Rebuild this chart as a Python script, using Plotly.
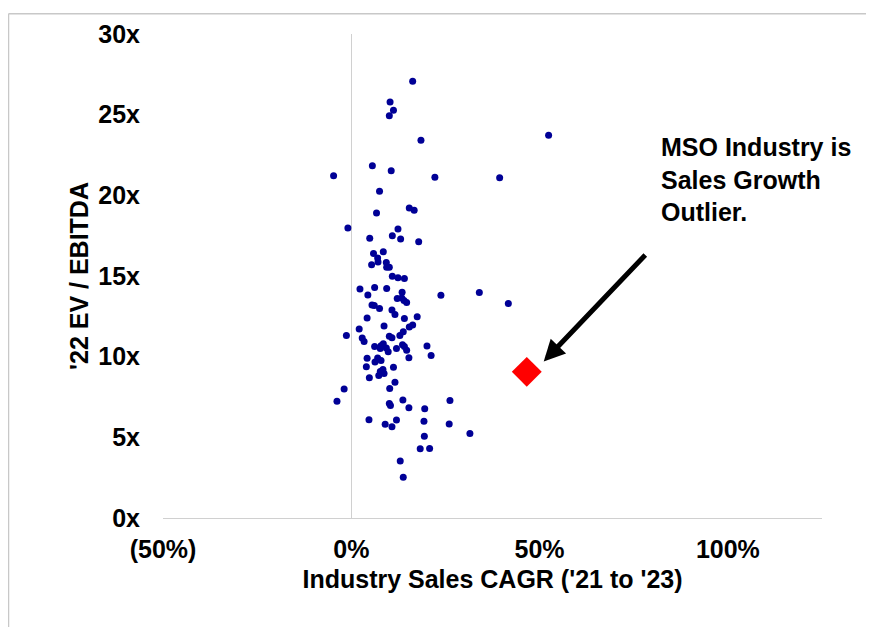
import plotly.graph_objects as go

# Industry sales CAGR ('21 to '23), in %
cagr_pct = [16.3, 10.3, 11.2, 10.1, 18.5, 5.6, 10.6, -4.7, 22.2, 39.4,
            7.5, 6.7, 15.4, 16.7, -0.9, 12.4, 4.9, 10.9, 13.1, 17.9,
            8.5, 5.9, 7.0, 7.1, 5.4, 9.3, 9.4, 10.1, 10.9, 12.4,
            14.1, 2.3, 6.2, 9.4, 13.5, 4.4, 23.8, 34.0, 12.2, 13.4,
            14.0, 14.7, 5.5, 6.1, 7.5, 10.8, 11.6, 4.2, 14.1, 17.5,
            8.7, 2.1, 16.3, 15.4, 13.8, 12.9, -1.3, 2.9, 3.4, 10.1,
            10.8, 6.2, 7.9, 8.5, 9.3, 7.7, 9.8, 12.0, 13.6, 14.1,
            14.7, 20.1, 21.2, 15.3, 4.2, 7.0, 7.9, 6.3, 4.0, 11.2,
            8.4, 7.7, 8.7, 7.3, 4.8, 11.6, -1.9, 10.2, -3.8, 13.7,
            26.2, 10.1, 10.4, 15.3, 19.5, 4.7, 9.0, 10.8, 12.0, 19.3,
            26.0, 31.5, 19.4, 18.3, 20.8, 13.0, 13.8, 52.4, 41.7]

# '22 EV / EBITDA multiple
ev_ebitda = [27.07, 25.79, 25.28, 24.93, 23.42, 21.84, 21.53, 21.21, 21.12, 21.09,
             20.26, 18.90, 19.22, 19.08, 17.98, 17.91, 17.34, 17.50, 17.30, 17.12,
             16.50, 16.40, 16.12, 15.87, 15.69, 15.83, 15.54, 15.54, 14.99, 14.89,
             14.85, 14.19, 14.29, 14.23, 13.99, 13.82, 13.80, 13.97, 13.60, 13.64,
             13.48, 13.36, 13.21, 13.17, 12.99, 12.90, 12.62, 12.39, 12.37, 12.47,
             11.90, 11.72, 11.96, 11.84, 11.55, 11.31, 11.31, 11.15, 10.94, 11.27,
             11.17, 10.63, 10.67, 10.80, 10.53, 10.51, 10.31, 10.51, 10.74, 10.63,
             10.39, 10.66, 10.08, 9.94, 9.90, 9.92, 9.77, 9.67, 9.37, 9.34,
             9.20, 9.08, 8.96, 8.83, 8.69, 8.42, 7.99, 8.02, 7.24, 7.32,
             7.28, 7.10, 6.98, 6.83, 6.77, 6.09, 5.81, 5.66, 6.07, 5.99,
             5.83, 5.23, 5.07, 4.29, 4.31, 3.54, 2.52, 23.72, 13.29]

# MSO industry outlier
mso_cagr_pct = [46.6]
mso_ev_ebitda = [9.06]

x_tick_vals = [-50, 0, 50, 100]
x_tick_text = ["(50%)", "0%", "50%", "100%"]
y_tick_vals = [0, 5, 10, 15, 20, 25, 30]
y_tick_text = ["0x", "5x", "10x", "15x", "20x", "25x", "30x"]

FONT = "Liberation Sans, Arial, Helvetica, sans-serif"
FS = 25

# page body adds an 8px offset on every side; figure coordinates compensate
W, H = 858, 620
L, T = 155, 21
PW, PH = 659, 489

fig = go.Figure()
fig.add_trace(go.Scatter(
    x=cagr_pct, y=ev_ebitda, mode="markers",
    marker=dict(color="#000096", size=7, line=dict(width=0)),
    showlegend=False, hoverinfo="skip"))
fig.add_trace(go.Scatter(
    x=mso_cagr_pct, y=mso_ev_ebitda, mode="markers",
    marker=dict(color="#FF0000", size=23, symbol="diamond", line=dict(width=0)),
    showlegend=False, hoverinfo="skip"))

fig.update_layout(
    width=W, height=H,
    margin=dict(l=L, r=W - L - PW, t=T, b=H - T - PH),
    paper_bgcolor="white", plot_bgcolor="white",
    font=dict(family=FONT, size=FS, color="black", weight="bold"),
    xaxis=dict(
        range=[-50, 125], tickvals=x_tick_vals, ticktext=x_tick_text,
        showgrid=False, zeroline=True, zerolinecolor="#d0d0d0", zerolinewidth=1,
        showline=True, linecolor="#d0d0d0", linewidth=1,
        ticks="", ticklabelstandoff=9,
        tickfont=dict(family=FONT, size=FS, color="black", weight="bold"),
        title=dict(text="Industry Sales CAGR ('21 to '23)", standoff=8,
                   font=dict(family=FONT, size=FS, color="black", weight="bold")),
    ),
    yaxis=dict(
        range=[0, 30], tickvals=y_tick_vals, ticktext=y_tick_text,
        showgrid=False, zeroline=False, showline=False,
        ticks="", ticklabelstandoff=22,
        tickfont=dict(family=FONT, size=FS, color="black", weight="bold"),
        title=dict(text="'22 EV / EBITDA", standoff=2,
                   font=dict(family=FONT, size=FS, color="black", weight="bold")),
    ),
)

fig.add_annotation(
    x=51.1, y=9.7, xref="x", yref="y",
    ax=103, ay=-108, axref="pixel", ayref="pixel",
    showarrow=True, arrowhead=2, arrowsize=0.85, arrowwidth=5, arrowcolor="black",
    text="")

fig.add_annotation(
    x=(651 - L) / PW, y=(T + PH - 168) / PH, xref="paper", yref="paper",
    xanchor="left", yanchor="middle", align="left", showarrow=False,
    text="MSO Industry is<br>Sales Growth<br>Outlier.",
    font=dict(family=FONT, size=FS, color="black", weight="bold"))

# thin frame lines at top and left edges
fig.add_shape(type="line", xref="paper", yref="paper",
              x0=(0.5 - L) / PW, x1=(W - L) / PW,
              y0=(T + PH - 0.5) / PH, y1=(T + PH - 0.5) / PH,
              line=dict(color="#c8c8c8", width=1.5))
fig.add_shape(type="line", xref="paper", yref="paper",
              x0=(0.5 - L) / PW, x1=(0.5 - L) / PW,
              y0=(T + PH - 0.5) / PH, y1=(T + PH - H) / PH,
              line=dict(color="#c8c8c8", width=1.5))

fig.write_html("out.html")
